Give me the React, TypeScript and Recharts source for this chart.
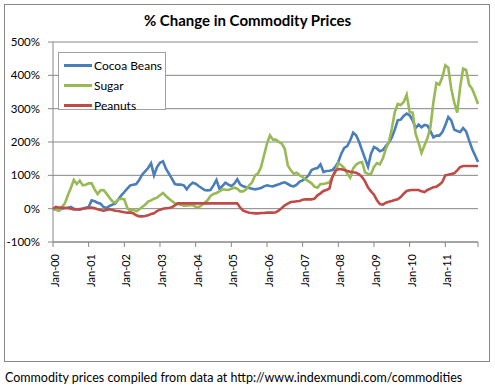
import React from 'react'
import { LineChart, Line, XAxis, YAxis, CartesianGrid, Legend } from 'recharts'

// monthly % change since Jan-00, Jan-00 .. Dec-11
const cocoaBeans = [
  0, -3, -5, 0, 2, 3, 5, 0, -2, -3, 0, 3,
  5, 25, 22, 18, 15, 5, 2, 8, 12, 16, 28, 40,
  50, 60, 70, 72, 74, 86, 102, 112, 122, 136, 100, 125,
  138, 142, 120, 105, 90, 74, 72, 72, 70, 58, 70, 78,
  75, 68, 62, 56, 55, 56, 70, 86, 60, 68, 78, 72,
  68, 75, 88, 72, 67, 64, 62, 60, 58, 60, 62, 67,
  70, 68, 67, 70, 73, 77, 79, 74, 69, 67, 72, 81,
  85, 91, 100, 116, 120, 122, 133, 110, 113, 114, 116, 125,
  140, 165, 182, 188, 205, 228, 220, 200, 175, 150, 126, 165,
  185, 180, 172, 176, 188, 198, 214, 237, 265, 267, 278, 285,
  280, 265, 242, 252, 244, 251, 249, 233, 214, 219, 219, 230,
  250, 275, 265, 237, 233, 230, 242, 232, 205, 180, 160, 140,
]

const sugar = [
  0, -3, -7, 5, 16, 40, 62, 86, 74, 84, 70, 72,
  76, 76, 58, 44, 55, 56, 45, 33, 22, 18, 28, 30,
  28, 2, -7, -3, -8, -2, 5, 12, 21, 25, 30, 33,
  40, 47, 38, 30, 23, 16, 14, 12, 9, 9, 10, 11,
  6, 4, 10, 18, 25, 38, 44, 47, 52, 58, 57, 56,
  60, 63, 60, 52, 52, 58, 70, 79, 100, 106, 125, 160,
  195, 220, 207, 207, 200, 195, 179, 130, 115, 105, 108, 100,
  95, 88, 82, 76, 66, 63, 74, 74, 76, 79, 95, 109,
  137, 130, 122, 105, 93, 121, 132, 138, 140, 109, 104, 104,
  125, 137, 133, 151, 180, 200, 240, 290, 314, 311, 320, 342,
  290, 288, 225, 198, 167, 190, 212, 245, 320, 377, 372, 395,
  430, 423, 360, 319, 288, 365, 420, 416, 372, 360, 338, 314,
]

const peanuts = [
  0, 5, 3, 3, 2, 2, 0, -2, -2, -1, 0, 1,
  2, 3, 1, -2, -4, -6, -4, -2, -4, -6, -7, -9,
  -11, -12, -12, -14, -20, -23, -23, -22, -20, -16, -14, -7,
  -3, 0, 1, 2, 4, 10, 16, 16, 16, 16, 16, 16,
  16, 16, 16, 16, 16, 16, 16, 16, 16, 16, 16, 16,
  16, 16, 16, 3, -6, -9, -12, -13, -14, -14, -13, -13,
  -12, -12, -12, -11, -5, 2, 10, 15, 20, 21, 22, 23,
  27, 28, 28, 28, 30, 40, 46, 53, 56, 60, 95, 114,
  119, 118, 116, 113, 111, 109, 108, 103, 95, 82, 63, 52,
  42, 25, 14, 12, 18, 21, 23, 26, 28, 35, 45, 53,
  55, 56, 56, 56, 52, 50, 56, 60, 64, 66, 72, 80,
  100, 102, 104, 106, 115, 125, 128, 128, 128, 128, 128, 128,
]

const yearLabels = ['Jan-00', 'Jan-01', 'Jan-02', 'Jan-03', 'Jan-04', 'Jan-05', 'Jan-06', 'Jan-07', 'Jan-08', 'Jan-09', 'Jan-10', 'Jan-11']
const yTicks = [-100, 0, 100, 200, 300, 400, 500]

const seriesInfo = [
  { key: 'cocoa', name: 'Cocoa Beans', color: '#4A7EBB' },
  { key: 'sugar', name: 'Sugar', color: '#98B954' },
  { key: 'peanuts', name: 'Peanuts', color: '#BE4B48' },
]

const data = cocoaBeans.map((c, i) => ({ i, cocoa: c, sugar: sugar[i], peanuts: peanuts[i] }))
const xTicks = [...yearLabels.map((_, k) => k * 12), data.length - 1]

const FONT = 'Lato, "Open Sans", sans-serif'
const AXIS = '#868686'

const XTick = (props: any) => {
  const { x, y, payload } = props
  const label = yearLabels[payload.value / 12] ?? ''
  return (
    <g transform={`translate(${x},${y})`}>
      <text transform="rotate(-90)" x={-5} y={2} dy="0.35em" textAnchor="end" fontSize={11} fill="#000" fontFamily={FONT}>
        {label}
      </text>
    </g>
  )
}

const LegendBox = () => (
  <div style={{ border: '1px solid #a0a0a0', background: '#fff', width: 108, height: 58, padding: '2px 0', boxSizing: 'border-box' }}>
    {seriesInfo.map(s => (
      <div key={s.key} style={{ display: 'flex', alignItems: 'center', height: 20, fontSize: 12 }}>
        <span style={{ display: 'inline-block', width: 28, height: 3, background: s.color, marginLeft: 5, marginRight: 2 }} />
        <span>{s.name}</span>
      </div>
    ))}
  </div>
)

export default function App() {
  return (
    <div style={{ position: 'absolute', left: 0, top: 0, width: 495, height: 390, background: '#fff', fontFamily: FONT }}>
      <div style={{ position: 'absolute', left: 4, top: 4, width: 484, height: 356, border: '1px solid #878787' }} />
      <div style={{ position: 'absolute', left: 0, width: 495, top: 11, textAlign: 'center', fontWeight: 700, fontSize: 15 }}>
        % Change in Commodity Prices
      </div>
      <div style={{ position: 'absolute', left: 5, top: 370, fontSize: 12.5, whiteSpace: 'nowrap' }}>
        Commodity prices compiled from data at http://www.indexmundi.com/commodities
      </div>
      <div style={{ position: 'absolute', left: 0, top: 0 }}>
        <LineChart width={495} height={390} data={data} margin={{ top: 42, right: 17, bottom: 30, left: 0 }}>
          <CartesianGrid vertical={false} stroke={AXIS} strokeWidth={1} />
          <XAxis
            dataKey="i"
            type="number"
            domain={[0, data.length - 1]}
            ticks={xTicks}
            interval={0}
            tick={<XTick />}
            tickSize={5}
            tickMargin={2}
            height={60}
            axisLine={{ stroke: AXIS }}
            tickLine={{ stroke: AXIS }}
          />
          <YAxis
            domain={[-100, 500]}
            ticks={yTicks}
            interval={0}
            width={53}
            tickFormatter={(v: number) => `${v}%`}
            tick={{ fontSize: 11.5, fill: '#000', fontFamily: FONT }}
            tickSize={5}
            tickMargin={8}
            axisLine={{ stroke: AXIS }}
            tickLine={{ stroke: AXIS }}
          />
          <Legend
            content={() => <LegendBox />}
            wrapperStyle={{ position: 'absolute', left: 58, top: 52, width: 'auto' }}
          />
          {seriesInfo.map(s => (
            <Line
              key={s.key}
              type="linear"
              dataKey={s.key}
              name={s.name}
              stroke={s.color}
              strokeWidth={2.6}
              dot={false}
              isAnimationActive={false}
            />
          ))}
        </LineChart>
      </div>
    </div>
  )
}
